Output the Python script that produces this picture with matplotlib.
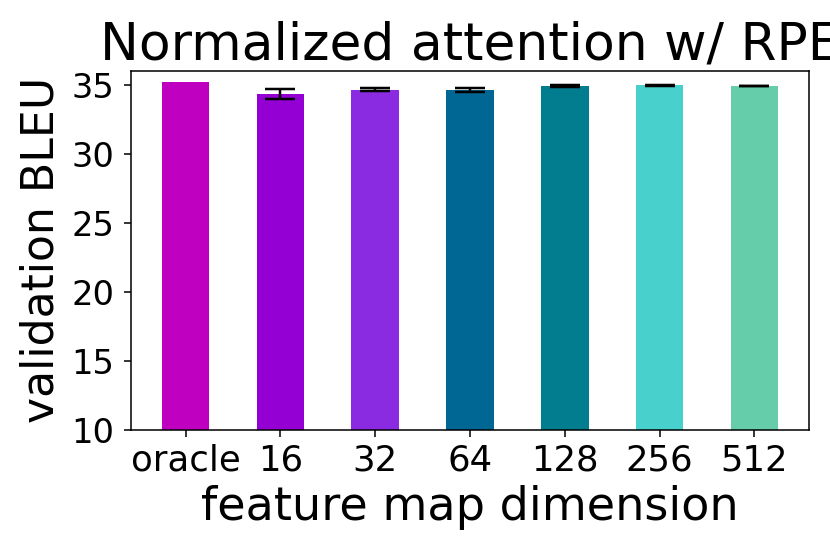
import matplotlib
matplotlib.use("Agg")
import matplotlib.pyplot as plt

# BLEU per feature map size
labels = ["oracle", "16", "32", "64", "128", "256", "512"]
bleu = [35.16, 34.29, 34.63, 34.61, 34.87, 34.95, 34.88]
# oracle has no spread, so it gets no error bar
bleu_err = [None, 0.37, 0.11, 0.13, 0.08, 0.035, 0.012]
colors = ["#C000C0", "#9400D3", "#8A2BE2", "#006794", "#027D90", "#48D1CC", "#66CDAA"]
yticks = [10, 15, 20, 25, 30, 35]

dpi = 138.33
fig = plt.figure(figsize=(830 / dpi, 554 / dpi), dpi=dpi)
ax = fig.add_axes([131 / 830, 124 / 554, 678 / 830, 359.3 / 554])

x = list(range(len(labels)))
ax.bar(x, bleu, width=0.5, color=colors)
ax.errorbar(x[1:], bleu[1:], yerr=bleu_err[1:], fmt="none", ecolor="black",
            elinewidth=1.3, capthick=1.3, capsize=8)

ax.set_ylim(10, 36)
ax.set_yticks(yticks)
ax.set_xticks(x)
ax.set_xticklabels(labels, fontsize=18.5)
ax.tick_params(axis="y", labelsize=17.5, pad=5)
ax.set_xlabel("feature map dimension", fontsize=24)
ax.set_ylabel("validation BLEU", fontsize=23, labelpad=5)
ax.set_title("Normalized attention w/ RPE", fontsize=27)

fig.savefig("out.png", dpi=dpi)
